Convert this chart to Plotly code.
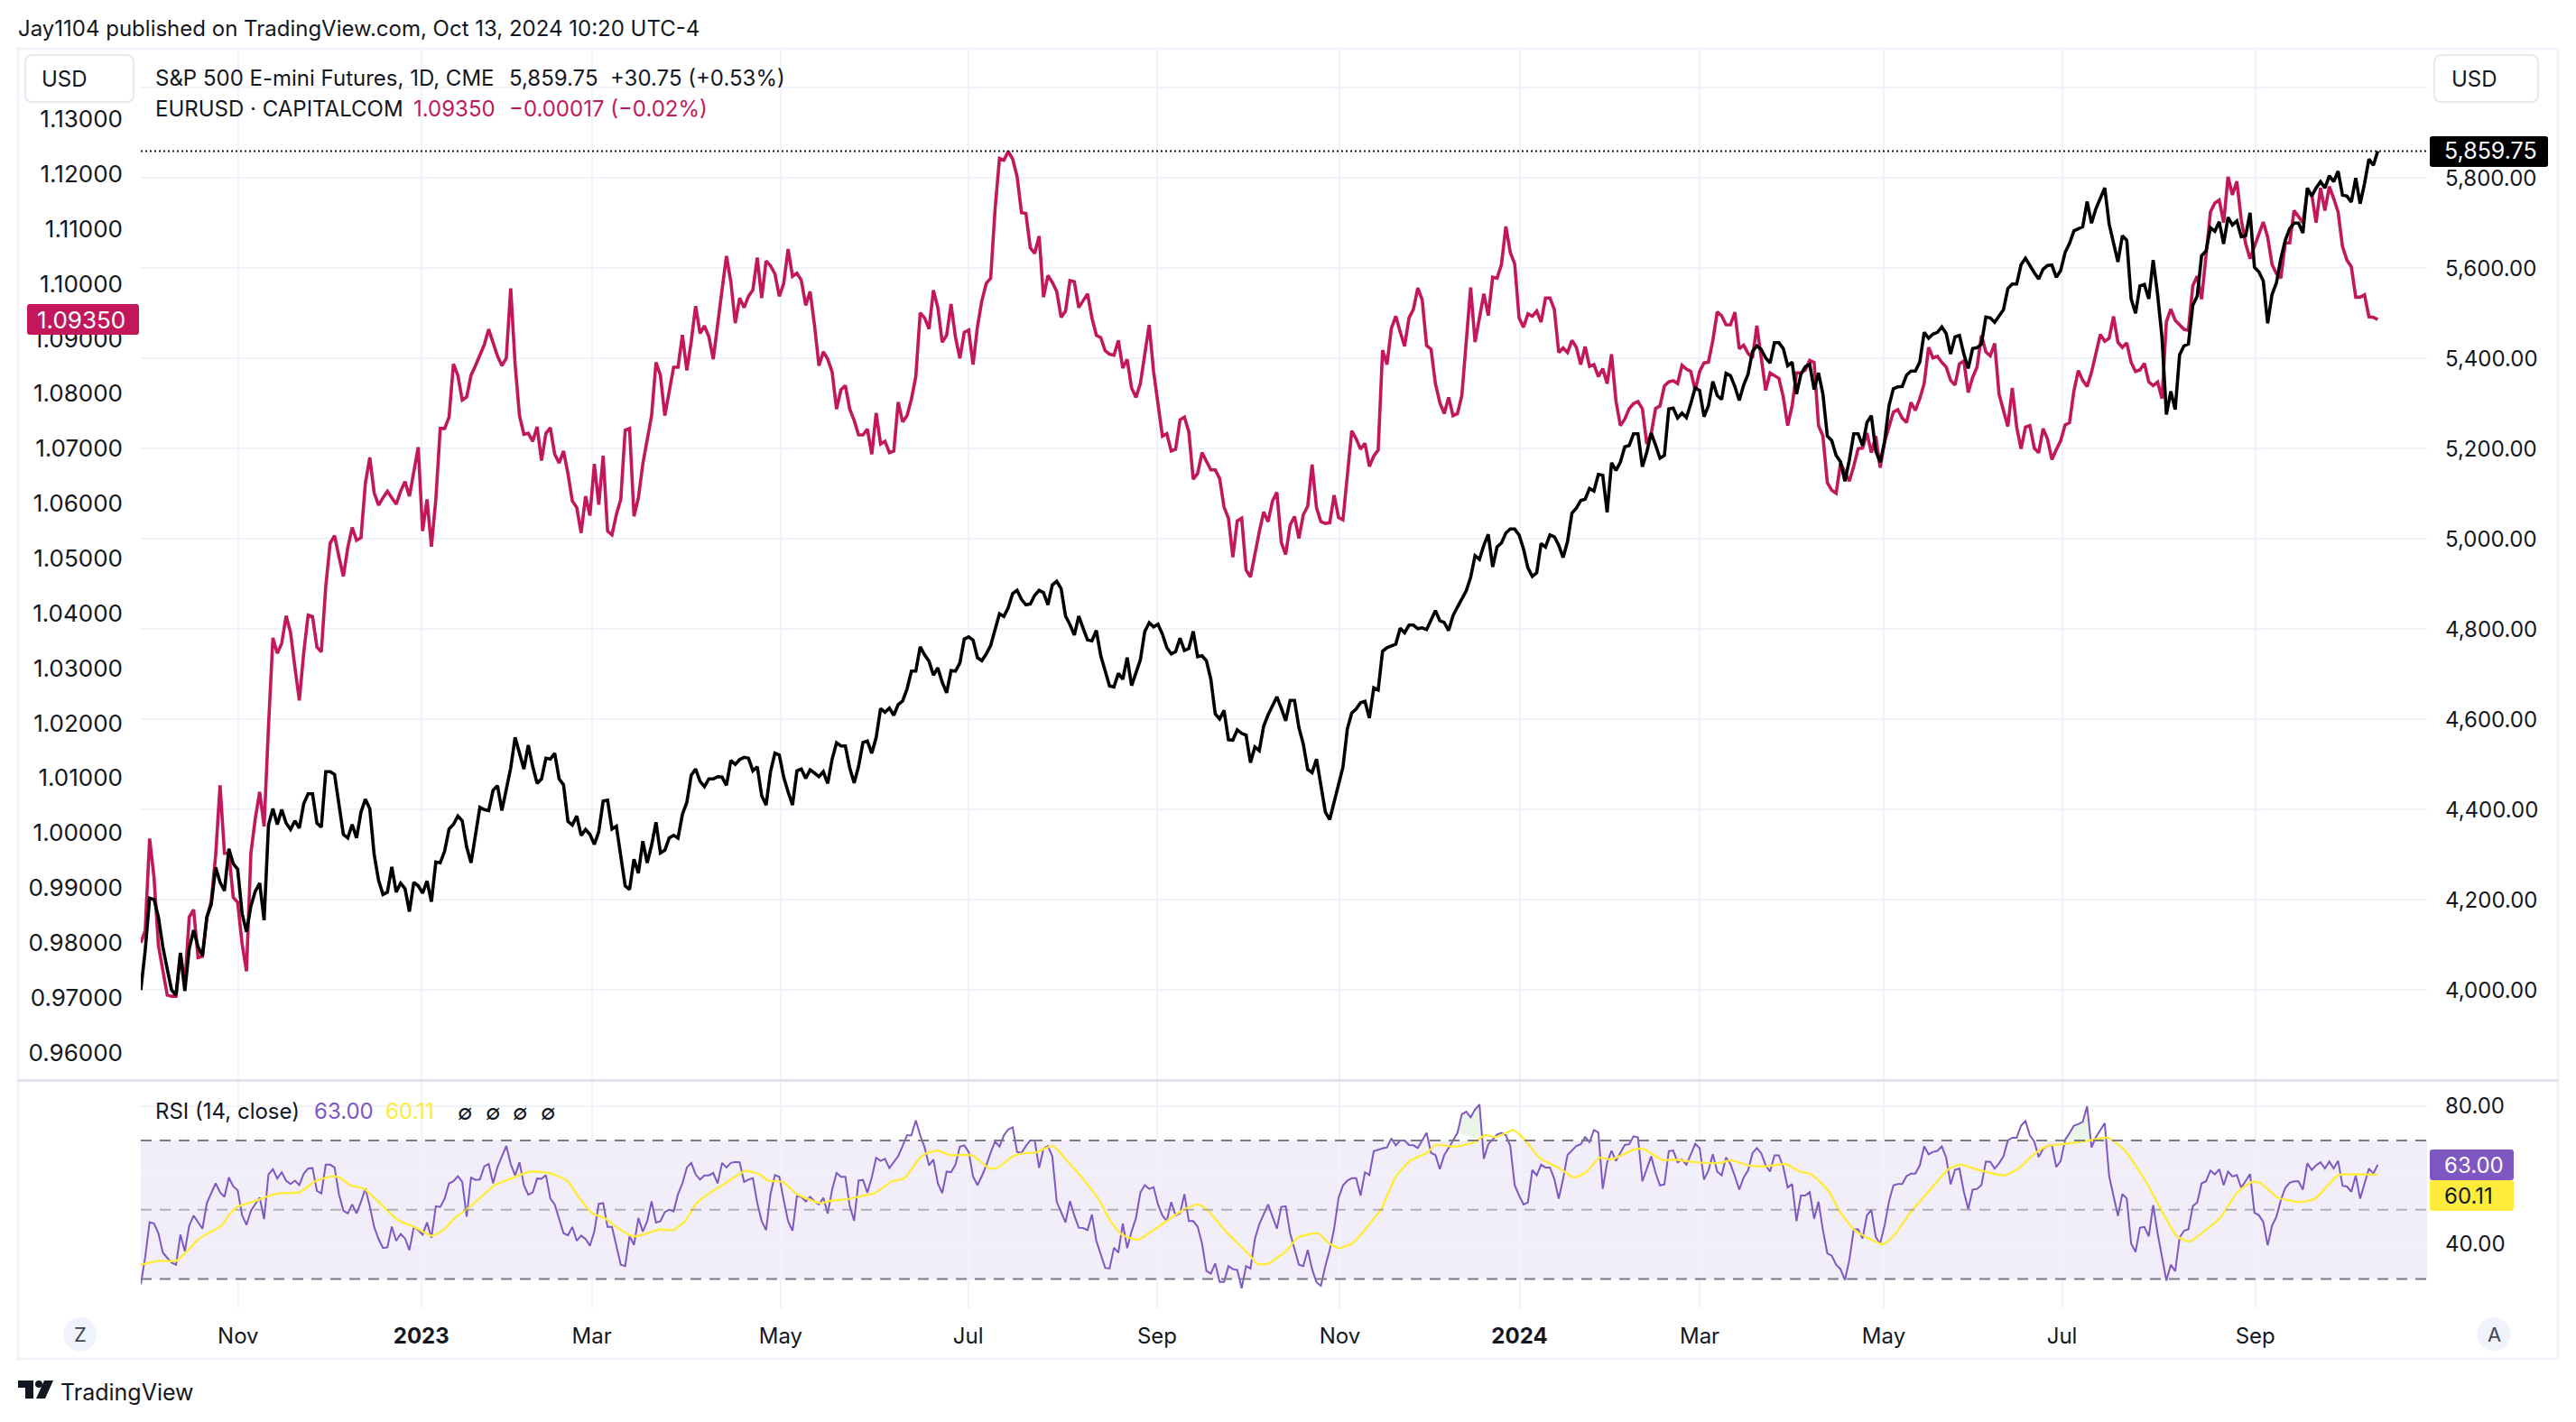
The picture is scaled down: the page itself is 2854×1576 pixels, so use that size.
import plotly.graph_objects as go

W, H = 2854, 1576

sp_close = [
4000,4088,4204,4201,4162,4096,4047,4000,3989,4082,
3998,4092,4133,4096,4076,4162,4190,4272,4239,4220,
4313,4280,4268,4170,4129,4186,4219,4237,4155,4366,
4402,4367,4400,4370,4356,4375,4359,4413,4435,4435,
4370,4361,4484,4484,4478,4415,4345,4337,4367,4337,
4394,4423,4402,4300,4243,4212,4217,4273,4217,4237,
4225,4174,4239,4231,4215,4242,4196,4284,4282,4308,
4357,4367,4386,4375,4317,4282,4341,4405,4400,4398,
4443,4453,4398,4447,4492,4560,4525,4490,4543,4496,
4458,4468,4514,4512,4525,4468,4455,4374,4366,4386,
4343,4356,4345,4323,4351,4419,4421,4357,4363,4292,
4231,4223,4290,4259,4330,4282,4321,4372,4304,4310,
4337,4343,4337,4390,4416,4476,4490,4463,4451,4468,
4468,4473,4472,4454,4509,4500,4511,4516,4514,4486,
4495,4431,4410,4484,4525,4521,4472,4439,4410,4486,
4490,4469,4488,4481,4473,4484,4458,4512,4548,4541,
4541,4492,4459,4496,4549,4552,4525,4560,4624,4616,
4625,4609,4633,4641,4667,4707,4707,4761,4743,4729,
4698,4714,4682,4659,4708,4707,4725,4778,4783,4776,
4737,4730,4745,4764,4802,4834,4828,4848,4879,
4886,4866,4854,4856,4875,4886,4881,4854,4898,4906,
4890,4829,4810,4787,4829,4802,4776,4774,4797,
4741,4709,4674,4672,4702,4689,4737,4675,4703,4732,
4795,4814,4805,4811,4789,4759,4745,4750,4780,4753,
4757,4795,4739,4741,4730,4689,4612,4601,4620,4555,
4554,4577,4569,4565,4504,4539,4531,4585,4610,4629,
4650,4625,4597,4642,4642,4582,4545,4489,4482,4512,
4455,4395,4378,4415,4452,4494,4579,4614,4623,4637,
4640,4603,4670,4665,4751,4759,4763,4767,4802,4792,
4809,4809,4801,4803,4799,4819,4841,4819,4815,4797,
4830,4849,4867,4885,4915,4963,4955,4986,5010,4938,
4982,4991,5013,5022,5022,5009,4978,4936,4917,4925,
4990,4982,5009,5005,4986,4959,4994,5057,5068,5085,
5088,5112,5106,5143,5141,5059,5169,5152,5170,5204,
5207,5233,5233,5160,5192,5235,5208,5179,5185,5288,
5290,5268,5279,5269,5300,
5335,5329,5271,5295,5349,5318,5309,5367,5362,
5338,5307,5341,5365,5416,5428,5420,5401,5390,5435,
5435,5422,5384,5392,5321,5365,5382,5387,5331,5368,
5321,5228,5218,5185,5171,5128,5175,5233,5233,5207,
5258,5273,5195,5170,5215,5295,5333,5337,5338,5363,5372,
5372,5392,5458,5445,5454,5458,5470,5455,5410,5448,
5451,5410,5378,5422,5424,5432,5492,5490,5480,5494,
5508,5555,5565,5565,5608,5622,5605,5590,5576,5598,5606,
5607,5580,5595,5635,5655,5683,5687,5692,5748,5700,
5732,5755,5778,5698,5655,5614,5672,5662,5532,5500,
5561,5564,5532,5618,5542,5448,5276,5327,5287,5408,
5428,5432,5518,5538,5628,5638,5690,5682,5703,5654,
5713,5696,5705,5670,5672,5723,5602,5592,5572,5478,
5542,5568,5622,5662,5688,5700,5700,5678,5778,5760,
5778,5792,5778,5805,5792,5815,5762,5760,5747,5800,
5743,5788,5842,5828,5859.75]

eur_close = [
.97999,.98221,.99898,.99193,.97953,.97483,.97047,.97027,.97027,.97819,
.9725,.98469,.98603,.97731,.97752,.98456,.98758,.99596,1.00870,.99629,
.99629,.98825,.98737,.97986,.97483,.99629,1.00266,1.00749,1.00119,1.01943,
1.03553,1.03271,1.03452,1.03955,1.03653,1.03016,1.02413,1.03284,1.03968,1.03942,
1.03385,1.03298,1.04492,1.05276,1.05417,1.05028,1.04673,1.05196,1.05565,1.05330,
1.05377,1.06369,1.06838,1.06193,1.05970,1.06105,1.06222,1.06105,1.05987,1.06222,
1.06398,1.06134,1.06604,1.07026,1.05498,1.06076,1.05216,1.06076,1.07367,1.07367,
1.07572,1.08540,1.08335,1.07883,1.07942,1.08335,1.08511,1.08716,1.08892,1.09174,
1.08921,1.08687,1.08511,1.08646,1.09919,1.08540,1.07601,1.07261,1.07278,1.07132,
1.07396,1.06780,1.07278,1.07378,1.06897,1.06739,1.06956,1.06545,1.06046,1.05929,
1.05464,1.06134,1.0578,1.06721,1.0598,1.06868,1.05498,1.05431,1.05799,
1.06076,1.07337,1.07367,1.05766,1.06105,1.06721,1.07132,1.07601,1.08569,1.08335,
1.07601,1.08012,1.08481,1.08481,1.09068,1.08423,1.08951,1.09596,1.09098,1.09233,
1.09039,1.08628,1.09303,1.09890,1.10506,1.10036,1.09285,1.09743,1.09567,1.09773,
1.09890,1.10477,1.09743,1.10418,1.10330,1.10183,1.09773,1.10007,1.10635,1.10136,
1.10195,1.10066,1.09608,1.09860,1.09244,1.08511,1.08763,1.08628,1.08393,1.07719,
1.08071,1.08147,1.07719,1.07513,1.07249,1.07249,1.07355,1.06897,1.07648,1.07085,
1.07132,1.06926,1.06956,1.07848,1.07484,
1.07599,1.07901,1.08310,1.09473,1.09379,1.09178,1.09882,1.09568,1.08939,1.09065,
1.09631,1.09033,1.08643,1.09115,1.09159,1.08530,1.09222,1.09693,1.10008,1.10102,
1.11360,1.12284,1.12253,1.12410,1.12272,1.11957,1.11297,1.11284,1.10656,1.10555,
1.10869,1.09756,1.10153,1.10027,1.09863,1.09392,1.09505,1.10058,1.10039,1.09568,
1.09693,1.09819,1.09379,1.09065,1.09021,1.08782,1.08719,1.08700,1.08970,1.08467,
1.08625,1.08103,1.07933,1.08184,1.08719,1.09253,1.08404,1.07838,1.07228,1.07272,
1.06958,1.06989,1.07524,1.07574,1.07304,1.06443,1.06549,1.06927,1.06782,1.06612,
1.06612,1.06455,1.05933,1.05732,1.05021,1.05682,1.05732,1.04789,1.04663,1.05103,
1.05480,1.05845,1.05669,1.06046,1.06204,1.05292,1.05072,1.05606,1.05763,1.05367,
1.05795,1.05952,1.06707,1.05921,1.05669,1.05638,1.05650,1.06153,1.05745,1.05701,
1.06581,1.07323,1.07178,1.06990,1.07097,1.06675,1.06864,1.06971,1.08794,1.08530,
1.09190,1.09411,1.09127,1.08863,1.09379,1.09536,1.09926,1.09706,1.08876,
1.08813,1.08184,1.07838,1.07637,1.07933,1.07599,1.07637,1.07964,1.08970,1.09932,
1.08939,1.09348,1.09819,1.09423,1.10121,1.10102,1.10354,1.11045,1.10574,1.10366,
1.09379,1.09209,1.09454,1.09411,1.09505,1.09304,1.09744,1.09744,1.09536,1.08750,1.08832,
1.08750,1.08970,1.08845,1.08530,1.08857,1.08499,1.08530,1.08310,1.08455,1.08184,
1.08719,1.07870,1.07417,1.07537,1.07725,1.07819,1.07857,1.07725,1.07084,1.07272,
1.07732,1.07776,1.08140,1.08216,1.08235,1.08184,1.08518,1.08448,1.08404,1.08059,1.08404,
1.08562,1.08575,1.08970,
1.09490,1.09418,1.09254,1.09254,1.09484,1.08816,1.08882,1.08734,1.08652,1.09238,
1.08652,1.08060,1.08378,1.08334,1.08279,1.07940,1.07419,1.07775,1.08378,1.08378,
1.08433,1.08608,1.08569,1.07419,1.07228,1.06379,1.06242,1.06187,1.06735,1.06570,
1.06406,1.06680,1.06998,1.07009,1.07282,1.06926,1.07228,1.06652,1.07118,1.07392,
1.07666,1.07710,1.07556,1.07474,1.07841,1.07693,1.07912,1.08186,1.08843,1.08652,
1.08679,1.08569,1.08487,1.08241,1.08159,1.08542,1.08597,1.08022,1.08296,1.08487,
1.09062,1.08761,1.08690,1.08915,1.07994,1.07693,1.07403,1.08104,1.07392,1.06998,
1.07392,1.07419,1.07009,1.06926,1.07365,1.07173,1.06800,1.06981,1.07146,1.07430,
1.07474,1.08049,1.08422,1.08241,1.08131,1.08389,1.08706,1.09079,1.08953,1.09008,
1.09407,1.08936,1.08843,1.08925,1.08569,1.08405,1.08433,1.08553,1.08213,1.08148,
1.08213,1.07912,1.09309,1.09539,1.09336,1.09243,1.09172,1.09155,1.09966,
1.10141,1.09720,1.10514,1.11308,1.11472,1.11527,1.11116,1.11949,1.11620,1.11867,
1.11171,1.10733,1.10459,1.10678,1.10897,1.11127,1.10853,1.10350,1.10185,1.10103,
1.10744,1.10744,
1.11335,1.11225,1.11116,1.11663,1.11636,1.11116,1.11746,1.11335,1.11773,1.11554,
1.11307,1.10677,1.10431,1.10311,1.09757,1.09757,1.09801,1.09401,1.09390,1.09350]

rsi_close = [
28.4,36.3,46.4,46.0,43.2,37.6,36.1,34.7,34.1,42.8,
38.0,45.4,48.3,46.4,44.5,51.9,55.0,57.6,55.0,53.7,
59.3,56.7,55.6,48.4,45.6,49.7,51.6,53.5,47.3,60.2,
61.7,59.0,60.8,58.4,57.4,58.4,57.1,60.4,61.9,62.0,
55.4,54.7,63.0,63.0,62.2,54.5,49.7,48.9,51.5,48.9,
52.3,56.1,51.0,45.0,41.5,38.9,39.1,45.1,41.0,43.0,
41.7,38.3,45.0,44.1,42.8,46.3,41.9,51.0,50.8,53.2,
57.6,58.2,59.7,58.0,48.0,59.3,58.6,58.7,62.5,63.2,
57.6,62.3,65.4,68.4,63.2,59.9,63.7,57.1,54.3,55.0,
59.0,58.9,60.0,53.2,51.5,47.4,43.2,42.6,45.0,41.0,
42.5,41.5,39.6,43.7,51.7,51.9,45.0,45.0,39.8,34.1,
33.7,42.4,39.8,47.6,43.7,46.7,52.4,46.3,46.7,49.3,
50.0,49.5,54.5,57.6,62.2,63.5,60.2,58.7,59.9,59.9,
60.6,57.6,63.5,62.2,63.5,63.8,63.7,58.0,58.7,59.1,
51.9,46.7,44.1,54.5,60.0,59.5,52.8,46.7,43.9,53.9,
53.7,52.4,53.7,52.4,51.5,53.4,48.9,55.8,60.6,59.5,
59.5,51.0,46.8,58.4,58.6,54.9,59.3,65.0,64.1,64.7,
62.0,63.7,65.5,
68.4,71.5,71.5,75.8,71.5,68.0,62.8,64.5,57.6,54.8,
61.0,60.8,63.0,68.2,68.6,66.7,59.6,57.1,59.7,62.8,
66.5,69.7,68.2,71.5,73.2,73.8,66.7,66.4,68.4,70.0,
70.0,62.1,67.6,68.4,65.4,52.3,49.3,46.3,52.5,48.3,
44.8,44.7,44.1,48.6,41.0,37.1,33.2,33.0,39.0,37.6,
46.0,38.9,43.7,47.6,55.0,57.1,56.0,56.5,51.5,48.3,
46.7,52.2,48.3,48.9,54.5,46.7,46.7,45.1,40.2,32.3,
31.5,34.5,29.1,29.1,33.7,32.8,32.6,27.3,33.7,33.0,
41.5,45.8,48.9,51.5,48.0,44.5,50.8,51.0,43.2,38.9,
34.1,33.7,38.4,32.8,29.0,28.0,33.7,38.4,44.5,53.4,
57.0,58.4,59.1,59.1,54.1,60.8,60.0,66.9,67.4,67.7,
68.0,70.6,68.6,70.0,70.0,68.7,68.6,67.8,70.0,72.2,
66.4,65.8,61.7,65.8,67.8,70.0,72.2,77.6,78.3,76.7,
78.9,80.4,64.7,68.9,70.2,71.7,72.2,71.5,68.4,57.1,
54.1,51.5,52.1,61.5,59.9,63.0,62.2,62.2,58.9,53.2,
58.9,65.8,67.1,68.4,68.9,71.0,69.5,73.0,72.3,56.0,
63.7,67.0,64.1,66.3,68.7,68.9,71.2,70.9,58.2,61.8,
65.4,60.6,57.0,57.3,66.9,67.1,63.7,64.5,63.0,66.0,
69.0,67.8,58.7,61.3,66.0,61.0,59.9,65.1,63.2,59.7,
55.8,59.3,61.3,66.3,67.8,
66.3,62.8,61.0,65.7,65.7,62.3,56.4,57.4,46.7,
54.1,54.1,55.1,47.4,52.3,44.1,37.4,36.7,34.1,32.8,
29.7,35.4,44.3,44.3,41.7,48.4,49.9,42.1,40.2,45.4,
52.3,57.0,57.4,57.4,59.7,60.4,60.4,62.8,68.3,66.0,
66.7,67.0,68.3,65.0,57.3,61.5,61.9,55.2,50.2,55.8,
56.0,57.1,63.9,63.8,61.9,63.4,65.4,70.0,70.8,70.8,
74.3,75.6,71.5,69.7,65.2,67.6,68.4,68.6,62.3,64.1,
70.2,72.1,74.3,74.7,75.4,79.9,68.0,71.0,73.0,75.0,
59.7,54.1,48.2,54.5,53.2,40.2,37.8,44.8,45.0,42.3,
51.3,43.2,36.7,29.5,34.1,32.2,41.9,43.9,44.3,51.0,
52.1,57.6,58.2,61.3,60.2,61.7,57.1,61.0,59.6,60.0,
56.3,58.4,60.3,49.1,48.4,46.5,39.7,45.4,48.0,52.8,
56.3,57.8,58.2,58.2,55.8,63.4,61.5,62.8,63.7,61.9,
63.9,61.9,64.1,56.9,56.7,55.2,59.9,53.2,57.6,61.9,
60.4,63.0]

rsi_ma_bar = [
0,3.9,8,10.5,13.1,18.3,20.3,22.2,25.5,29.4,32,36,39.6,43.2,45.1,47.7,50.6,54.3,58.2,62.1,66,68.7,71.3,74.5,78.5,80.4,84.3,88.3,
92.8,96.8,99.4,102.6,105.3,108.5,111.8,115.1,117.7,120.9,123.6,126.2,129.4,132.7,137.3,140.5,142.5,145.8,149,154.3,156.9,160.2,162.8,166.7,170.6,173,
173.8,176.4,178.4,181,183.6,188.8,192.8,194.7,198,200.6,203.2,207.1,210.4,213.7,217.6,220.2,222.8,226.4,230,233.9,237.2,240.1,242.4,246.4,251.6,253.6,255.8,
260.1,262.7,267.3,269.9,272.1,275.1,279,281.7,284.9,288.2,292.1,294.1,298.6,303.2,305.2,307.8,311.7,314.3,317.6,322.2,325.4,328,331.3,333.9,339.2,341.1,345.7,
348,353.2,358.5,361.1,365,368.9,373.5,376.8,379.4,383.3,385.9,389.2,395.7,398.3,402.2,405.5,408.1,410.7,413.4,417.3,423.2,426.4,430.4,433,436.9,442.1,446.7,
450.6,455.8,459.1,462.4,465.3,468.9,472.2,476.1,479.4,481.3,485.3,490.5,493.8,499,502.9,508]
rsi_ma = [
34.1,35.2,35.2,38.0,41.5,45.4,48.9,51.0,52.3,54.1,54.8,55.0,58.2,59.6,59.3,57.0,56.1,51.9,47.1,45.0,42.5,44.1,47.6,50.6,55.0,57.1,59.1,61.0,
60.6,58.4,53.7,48.9,47.6,44.5,42.3,43.2,44.3,44.1,46.7,51.9,55.0,57.6,61.2,60.2,58.4,58.0,54.5,51.9,52.6,53.0,53.7,54.8,58.2,58.9,
59.6,64.1,66.3,67.1,65.8,65.7,61.9,62.2,65.4,66.3,66.5,68.4,64.1,59.3,52.8,46.7,42.8,41.3,44.1,47.6,50.2,51.5,49.7,43.7,37.1,34.3,34.3,
38.0,41.9,43.2,40.2,38.9,40.2,45.8,50.2,59.3,64.1,66.5,68.7,68.2,69.7,71.5,71.0,73.0,70.2,65.0,61.9,59.3,60.6,65.0,64.5,67.4,67.6,64.3,
64.5,63.7,63.5,64.3,62.8,62.5,63.2,61.0,60.2,55.4,49.3,44.1,40.0,42.8,49.7,54.5,58.4,61.9,63.0,61.5,59.9,61.9,66.5,68.4,69.0,69.9,70.8,
67.1,57.1,49.3,42.3,40.8,44.1,47.6,55.0,58.0,57.8,53.5,52.2,53.2,60.0,60.2,60.11]

time_ticks = [22.1,63.7,102.4,145.3,187.9,230.8,272.3,313.1,354,395.8,436.3,480.2]
time_labels = ["Nov","<b>2023</b>","Mar","May","Jul","Sep","Nov","<b>2024</b>","Mar","May","Jul","Sep"]
sp_ticks = [4000,4200,4400,4600,4800,5000,5200,5400,5600,5800,6000]
sp_labels = ["4,000.00","4,200.00","4,400.00","4,600.00","4,800.00","5,000.00","5,200.00","5,400.00","5,600.00","5,800.00",""]
eur_ticks = [round(.96+.01*i,2) for i in range(18)]
eur_labels = [f"{v:.5f}" for v in eur_ticks]
rsi_ticks = [40,60,80]
rsi_labels = ["40.00","","80.00"]

INK = "#131722"; GRID = "#f0f3fa"; PINK = "#c2185b"; PURPLE = "#7e57c2"; YEL = "#ffeb3b"
FONT = "Inter"; FS = 24

def px(x): return x / W
def py(y): return 1 - y / H

fig = go.Figure()
bars_e = list(range(len(eur_close)))
bars_s = list(range(len(sp_close)))
bars_r = list(range(len(rsi_close)))
fig.add_trace(go.Scatter(x=bars_e, y=eur_close, yaxis="y", xaxis="x", mode="lines",
                         line=dict(color=PINK, width=3.6), hoverinfo="skip"))
fig.add_trace(go.Scatter(x=bars_s, y=sp_close, yaxis="y2", xaxis="x", mode="lines",
                         line=dict(color="#000000", width=3.6), hoverinfo="skip"))
for a, b in ((299, 306), (437, 444)):
    fig.add_trace(go.Scatter(x=bars_r[a:b], y=[max(v, 70) for v in rsi_close[a:b]], yaxis="y3", xaxis="x2",
                             mode="none", fill="toself", fillcolor="rgba(76,175,80,0.13)", hoverinfo="skip"))
fig.add_trace(go.Scatter(x=bars_r, y=rsi_close, yaxis="y3", xaxis="x2", mode="lines",
                         line=dict(color=PURPLE, width=2), hoverinfo="skip"))
fig.add_trace(go.Scatter(x=rsi_ma_bar, y=rsi_ma, yaxis="y3", xaxis="x2", mode="lines",
                         line=dict(color=YEL, width=2.4, shape="spline", smoothing=0.5), hoverinfo="skip"))

XR = [0, 519.2]
tickf = dict(family=FONT, size=FS, color=INK)
xdom = [px(156), px(2689)]
shapes = []
def rect(x0, y0, x1, y1, fill=None, line=None, lw=0, layer="above"):
    shapes.append(dict(type="rect", xref="paper", yref="paper", x0=px(x0), x1=px(x1), y0=py(y0), y1=py(y1),
                       fillcolor=fill, line=dict(color=line, width=lw), layer=layer))
def rrect(x0, y0, x1, y1, r, fill=None, line=None, lw=0, layer="above"):
    X = lambda v: px(v); Y = lambda v: py(v)
    p = (f"M{X(x0+r)},{Y(y0)} L{X(x1-r)},{Y(y0)} Q{X(x1)},{Y(y0)} {X(x1)},{Y(y0+r)} "
         f"L{X(x1)},{Y(y1-r)} Q{X(x1)},{Y(y1)} {X(x1-r)},{Y(y1)} L{X(x0+r)},{Y(y1)} "
         f"Q{X(x0)},{Y(y1)} {X(x0)},{Y(y1-r)} L{X(x0)},{Y(y0+r)} Q{X(x0)},{Y(y0)} {X(x0+r)},{Y(y0)} Z")
    shapes.append(dict(type="path", xref="paper", yref="paper", path=p, fillcolor=fill,
                       line=dict(color=line, width=lw), layer=layer))

# panes
rect(20, 54, 2834, 1506, None, GRID, 3)
shapes.append(dict(type="line", xref="paper", yref="paper", x0=px(20), x1=px(2834), y0=py(1197.5), y1=py(1197.5),
                   line=dict(color="#e0e3eb", width=3), layer="above"))
# RSI band
shapes.append(dict(type="rect", xref="x2", yref="y3", x0=XR[0], x1=XR[1], y0=30, y1=70,
                   fillcolor="rgba(126,87,194,0.1)", line=dict(width=0), layer="below"))
for lev, col in ((70, "#787b86"), (50, "rgba(120,123,134,0.55)"), (30, "#787b86")):
    shapes.append(dict(type="line", xref="x2", yref="y3", x0=XR[0], x1=XR[1], y0=lev, y1=lev,
                       line=dict(color=col, width=2, dash="12px,9px"), layer="above"))
# last price dotted
shapes.append(dict(type="line", xref="x", yref="y2", x0=XR[0], x1=XR[1], y0=sp_close[-1], y1=sp_close[-1],
                   line=dict(color="#131722", width=2, dash="2px,3px"), layer="above"))
# USD boxes
rrect(28, 61, 148, 113, 8, "white", "#e0e3eb", 1.5)
rrect(2697, 61, 2812, 113, 8, "white", "#e0e3eb", 1.5)
# tags
rrect(30, 337, 154, 371, 3, PINK, PINK, 0)
rrect(2692, 151, 2823, 185, 3, "#000000", "#000000", 0)
rrect(2692, 1274, 2785, 1308, 3, PURPLE, PURPLE, 0)
rrect(2692, 1308, 2785, 1342, 3, YEL, YEL, 0)
# Z / A buttons
for cx in (88.6, 2763):
    shapes.append(dict(type="circle", xref="paper", yref="paper", x0=px(cx-18.5), x1=px(cx+18.5),
                       y0=py(1497.5), y1=py(1460), fillcolor="#f0f3fa", line=dict(width=0), layer="above"))
# TradingView logo
def poly(pts):
    return "M" + " L".join(f"{px(a)},{py(b)}" for a, b in pts) + " Z"
for pts in ([(20,1530),(37,1530),(37,1550),(28,1550),(28,1538),(20,1538)],
            [(49,1530),(59,1530),(50,1550),(40,1550)]):
    shapes.append(dict(type="path", xref="paper", yref="paper", path=poly(pts), fillcolor=INK, line=dict(width=0)))
shapes.append(dict(type="circle", xref="paper", yref="paper", x0=px(39), x1=px(47), y0=py(1538), y1=py(1530),
                   fillcolor=INK, line=dict(width=0)))

ann = []
def text(x, y, s, color=INK, size=FS, anchor="left"):
    ann.append(dict(xref="paper", yref="paper", x=px(x), y=py(y), text=s, showarrow=False, xanchor=anchor,
                    yanchor="middle", align=anchor, font=dict(family=FONT, size=size, color=color),
                    borderpad=0, borderwidth=0))
text(20, 31, "Jay1104 published on TradingView.com, Oct 13, 2024 10:20 UTC-4")
text(46, 87, "USD"); text(2716, 87, "USD")
text(172, 86, "S&amp;P 500 E-mini Futures, 1D, CME")
text(564, 86, "5,859.75")
text(676, 86, "+30.75 (+0.53%)")
text(172, 120, "EURUSD · CAPITALCOM")
text(458, 120, "1.09350", PINK)
text(564, 120, "−0.00017 (−0.02%)", PINK)
text(41, 354, "1.09350", "white", 26)
text(2708, 167.5, "5,859.75", "white", 25)
text(172, 1231, "RSI (14, close)")
text(347.5, 1231, "63.00", PURPLE)
text(427, 1231, "60.11", YEL)
for x0 in (507, 538, 568, 599):
    text(x0, 1232, "∅")
text(2708, 1291, "63.00", "white")
text(2708, 1325, "60.11", INK)
text(88.6, 1479, "Z", "#434651", 22, "center")
text(2763, 1479, "A", "#434651", 22, "center")
text(67, 1543, "TradingView", INK, 25)

fig.update_layout(
    width=W, height=H, margin=dict(l=0, r=0, t=0, b=0), paper_bgcolor="white", plot_bgcolor="white",
    showlegend=False, font=dict(family=FONT, size=FS, color=INK), shapes=shapes, annotations=ann,
    xaxis=dict(domain=xdom, range=XR, anchor="y", showticklabels=False, tickvals=time_ticks,
               showgrid=True, gridcolor=GRID, gridwidth=2, zeroline=False, showline=False, ticks=""),
    xaxis2=dict(domain=xdom, range=XR, anchor="y3", tickvals=time_ticks, ticktext=time_labels, tickfont=tickf,
                showgrid=True, gridcolor=GRID, gridwidth=2, zeroline=False, showline=False, ticks="",
                ticklabelstandoff=14, tickangle=0),
    yaxis=dict(domain=[py(1197), py(54)], range=[0.95501, 1.14282], side="left", anchor="x",
               tickvals=eur_ticks, ticktext=eur_labels, tickfont=dict(family=FONT, size=26, color=INK),
               showgrid=False, zeroline=False, showline=False, ticks="", ticklabelstandoff=19),
    yaxis2=dict(domain=[py(1197), py(54)], range=[3800.6, 6086.6], side="right", anchor="x", overlaying="y",
                tickvals=sp_ticks, ticktext=sp_labels, tickfont=tickf, showgrid=True, gridcolor=GRID, gridwidth=2,
                zeroline=False, showline=False, ticks="", ticklabelstandoff=19),
    yaxis3=dict(domain=[py(1450), py(1198)], range=[21.5, 87.2], side="right", anchor="x2",
                tickvals=rsi_ticks, ticktext=rsi_labels, tickfont=tickf, showgrid=True, gridcolor=GRID, gridwidth=2,
                zeroline=False, showline=False, ticks="", ticklabelstandoff=19),
)
fig.write_html("out.html", config=dict(displayModeBar=False),
               post_script="document.body.style.margin='0';document.body.style.overflow='hidden';")
